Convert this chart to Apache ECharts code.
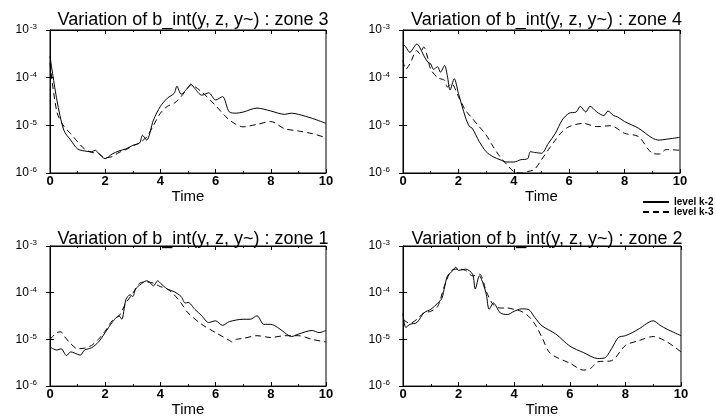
<!DOCTYPE html>
<html><head><meta charset="utf-8">
<script src="https://cdn.jsdelivr.net/npm/echarts@6/dist/echarts.min.js"></script>
<style>html,body{margin:0;padding:0;background:#fff}#c{width:716px;height:418px}</style>
</head><body><div id="c"></div>
<script>
// ---- DATA ----
const panelTitles = ['Variation of b_int(y, z, y~) : zone 3','Variation of b_int(y, z, y~) : zone 4','Variation of b_int(y, z, y~) : zone 1','Variation of b_int(y, z, y~) : zone 2'];
const seriesNames = ['level k-2','level k-3'];
const xTicks = [0,2,4,6,8,10];
const yTicks = [1e-6,1e-5,1e-4,1e-3];

// zone 3
const zone3TimeK2 = [0,0.25,0.5,0.75,1,1.25,1.5,1.65,1.75,2,2.25,2.5,2.75,3,3.25,3.35,3.5,3.75,4,4.25,4.5,4.6,4.75,5,5.1,5.25,5.5,5.75,6,6.25,6.5,6.75,7,7.5,8,8.5,8.75,9,9.5,10];
const zone3K2 = [2.8e-4,3.4e-5,7.9e-6,4.9e-6,3.2e-6,2.9e-6,2.8e-6,3.0e-6,2.6e-6,2.0e-6,2.5e-6,2.9e-6,3.2e-6,3.8e-6,4.3e-6,6.2e-6,4.9e-6,1.3e-5,2.5e-5,3.7e-5,4.7e-5,6.6e-5,4.5e-5,6.2e-5,7.3e-5,5.9e-5,4.3e-5,4.8e-5,3.4e-5,4.0e-5,1.9e-5,1.8e-5,1.9e-5,2.3e-5,2.0e-5,1.7e-5,1.8e-5,1.7e-5,1.4e-5,1.1e-5];
const zone3TimeK3 = [0,0.25,0.5,0.75,1,1.25,1.5,1.75,2,2.25,2.5,2.75,3,3.25,3.5,3.75,4,4.25,4.5,4.75,5,5.1,5.5,6,6.5,7,7.5,8,8.5,9,9.5,10];
const zone3K3 = [2.0e-4,1.9e-5,9.6e-6,6.7e-6,4.5e-6,3.2e-6,2.7e-6,2.6e-6,2.1e-6,2.2e-6,2.7e-6,3.1e-6,3.7e-6,4.3e-6,5.7e-6,1.0e-5,1.8e-5,2.5e-5,2.9e-5,4.0e-5,6.2e-5,7.0e-5,5.0e-5,2.6e-5,1.3e-5,9.3e-6,1.05e-5,1.2e-5,8.5e-6,7.6e-6,6.7e-6,5.5e-6];

// zone 4
const zone4TimeK2 = [0,0.1,0.25,0.4,0.5,0.6,0.75,0.9,1,1.1,1.25,1.35,1.5,1.6,1.7,1.85,2,2.25,2.4,2.5,2.75,3,3.25,3.5,3.75,4,4.25,4.5,4.6,4.75,5,5.25,5.5,5.75,6,6.25,6.4,6.6,6.75,7,7.25,7.4,7.6,7.75,8,8.5,9,9.25,9.5,10];
const zone4K2 = [5.1e-4,4.4e-4,3.4e-4,4.4e-4,5.1e-4,4.4e-4,2.9e-4,2.1e-4,1.95e-4,1.5e-4,1.7e-4,1.3e-4,1.8e-4,1.1e-4,5.5e-5,9.5e-5,4.7e-5,1.5e-5,9.4e-6,8.7e-6,4.6e-6,2.8e-6,2.2e-6,1.9e-6,1.7e-6,1.7e-6,1.9e-6,2.0e-6,2.8e-6,2.7e-6,2.6e-6,4.2e-6,6.8e-6,1.3e-5,1.8e-5,1.9e-5,2.5e-5,1.9e-5,2.5e-5,1.9e-5,1.6e-5,2.0e-5,1.6e-5,1.5e-5,1.2e-5,8.7e-6,5.4e-6,4.9e-6,5.1e-6,5.6e-6];
const zone4TimeK3 = [0,0.1,0.25,0.5,0.6,0.75,0.9,1,1.25,1.5,1.6,1.75,2,2.25,2.5,2.75,3,3.25,3.5,3.75,4,4.25,4.5,4.75,5,5.25,5.5,5.75,6,6.5,7,7.5,8,8.5,9,9.25,9.5,10];
const zone4K3 = [2.3e-4,1.5e-4,1.95e-4,3.7e-4,3.2e-4,4.4e-4,2.5e-4,1.5e-4,1.0e-4,8.8e-5,6.4e-5,7.5e-5,4.0e-5,2.1e-5,1.4e-5,9.4e-6,6.3e-6,3.6e-6,2.2e-6,1.5e-6,1.07e-6,1.0e-6,1.07e-6,1.2e-6,1.9e-6,3.1e-6,4.9e-6,7.4e-6,9.4e-6,1.1e-5,9.4e-6,9.8e-6,6.8e-6,5.8e-6,2.6e-6,2.5e-6,3.1e-6,3.0e-6];

// zone 1
const zone1TimeK2 = [0,0.25,0.4,0.6,0.75,1,1.1,1.25,1.5,1.75,2,2.25,2.5,2.6,2.75,2.9,3,3.1,3.25,3.5,3.6,3.75,3.9,4,4.25,4.5,4.75,4.9,5,5.25,5.5,5.75,6,6.25,6.5,7,7.25,7.5,7.75,8,8.25,8.5,8.75,9,9.5,9.75,10];
const zone1K2 = [6.9e-6,5.9e-6,6.3e-6,4.5e-6,5.4e-6,4.8e-6,4.6e-6,5.9e-6,6.6e-6,8.7e-6,1.4e-5,2.3e-5,3.2e-5,2.7e-5,7.1e-5,9.0e-5,8.3e-5,1.2e-4,1.45e-4,1.8e-4,1.7e-4,1.4e-4,1.8e-4,1.6e-4,1.2e-4,1.05e-4,8.3e-5,6.0e-5,6.2e-5,4.4e-5,3.2e-5,2.3e-5,2.5e-5,2.0e-5,2.4e-5,2.7e-5,2.7e-5,3.2e-5,2.1e-5,2.1e-5,1.8e-5,1.4e-5,1.15e-5,1.3e-5,1.55e-5,1.4e-5,1.55e-5];
const zone1TimeK3 = [0,0.25,0.4,0.5,0.75,1,1.25,1.5,1.75,2,2.25,2.5,2.6,2.75,3,3.25,3.5,3.75,4,4.25,4.5,4.75,5,5.5,6,6.5,6.6,6.75,7,7.5,8,8.5,9,9.5,10];
const zone1K3 = [1.0e-5,1.4e-5,1.45e-5,1.2e-5,8.1e-6,6.3e-6,6.5e-6,7.4e-6,1.0e-5,1.5e-5,2.5e-5,3.2e-5,4.0e-5,6.0e-5,9.7e-5,1.6e-4,1.7e-4,1.6e-4,1.35e-4,1.2e-4,9.0e-5,6.0e-5,3.7e-5,2.1e-5,1.4e-5,9.5e-6,8.8e-6,1.0e-5,1.05e-5,1.2e-5,1.1e-5,1.2e-5,1.2e-5,1.0e-5,8.8e-6];

// zone 2
const zone2TimeK2 = [0,0.1,0.25,0.5,0.75,1,1.25,1.4,1.5,1.6,1.75,1.9,2,2.25,2.5,2.6,2.75,2.9,3,3.1,3.25,3.5,3.75,4,4.25,4.5,4.75,5,5.5,6,6.5,7,7.25,7.5,7.75,8,8.25,8.5,9,9.25,9.5,10];
const zone2K2 = [3.7e-5,1.8e-5,2.1e-5,2.3e-5,3.7e-5,4.4e-5,6.0e-5,7.6e-5,1.35e-4,2.3e-4,2.8e-4,3.5e-4,3.0e-4,3.2e-4,2.5e-4,1.2e-4,2.3e-4,1.45e-4,9.0e-5,4.4e-5,6.0e-5,3.7e-5,3.4e-5,4.0e-5,4.5e-5,4.4e-5,2.9e-5,1.95e-5,1.3e-5,7.2e-6,5.2e-6,3.9e-6,4.0e-6,6.3e-6,1.1e-5,1.2e-5,1.4e-5,1.7e-5,2.5e-5,2.0e-5,1.65e-5,1.2e-5];
const zone2TimeK3 = [0,0.25,0.5,0.75,1,1.25,1.5,1.75,2,2.25,2.5,2.75,3,3.25,3.5,3.75,4,4.25,4.5,4.75,5,5.25,5.5,6,6.5,6.75,7,7.5,8,8.5,9,9.5,10];
const zone2K3 = [2.7e-5,2.2e-5,2.7e-5,3.7e-5,4.0e-5,5.1e-5,1.45e-4,3.0e-4,3.2e-4,3.0e-4,2.3e-4,2.5e-4,1.05e-4,5.5e-5,4.7e-5,4.7e-5,4.4e-5,4.0e-5,3.2e-5,2.1e-5,1.1e-5,5.4e-6,4.2e-6,3.1e-6,2.2e-6,2.4e-6,3.3e-6,3.5e-6,7.4e-6,9.5e-6,1.15e-5,8.8e-6,5.4e-6];

// ---- CHART ----
const FONT = 'Liberation Sans, Arial, Helvetica, sans-serif';
const panels = [
  {title: panelTitles[0], t2: zone3TimeK2, v2: zone3K2, t3: zone3TimeK3, v3: zone3K3, grid:{left:50, top:30, width:276, height:143}, titleTop:6},
  {title: panelTitles[1], t2: zone4TimeK2, v2: zone4K2, t3: zone4TimeK3, v3: zone4K3, grid:{left:403, top:30, width:277, height:143}, titleTop:6},
  {title: panelTitles[2], t2: zone1TimeK2, v2: zone1K2, t3: zone1TimeK3, v3: zone1K3, grid:{left:50, top:246, width:276, height:144}, titleTop:225},
  {title: panelTitles[3], t2: zone2TimeK2, v2: zone2K2, t3: zone2TimeK3, v3: zone2K3, grid:{left:403, top:246, width:278, height:144}, titleTop:225}
];
const zip = (t, v) => t.map((x, i) => [x, v[i]]);
const option = {
  animation: false,
  backgroundColor: '#fff',
  textStyle: {fontFamily: FONT, color: '#000'},
  title: [], grid: [], xAxis: [], yAxis: [], series: [],
  legend: {
    orient: 'vertical', left: 642, top: 197, padding: 0, itemWidth: 26, itemHeight: 8, itemGap: 0,
    itemStyle: {opacity: 0},
    textStyle: {fontFamily: FONT, fontSize: 10, fontWeight: 'bold', color: '#000', lineHeight: 8},
    data: seriesNames
  }
};
const supLabel = v => {
  const e = Math.round(Math.log10(v));
  return '{b|10}{s|' + e + '}';
};
panels.forEach((p, i) => {
  option.grid.push(Object.assign({show: true, borderColor: '#000', borderWidth: 1, backgroundColor: 'transparent'}, p.grid));
  option.title.push({
    text: p.title, left: p.grid.left + p.grid.width / 2, top: p.titleTop, textAlign: 'center',
    textStyle: {fontFamily: FONT, fontSize: 18, fontWeight: 'normal', color: '#000'}
  });
  option.xAxis.push({
    type: 'value', gridIndex: i, min: xTicks[0], max: xTicks[xTicks.length - 1], interval: xTicks[1] - xTicks[0],
    name: 'Time', nameLocation: 'middle', nameGap: 12,
    nameTextStyle: {fontFamily: FONT, fontSize: 15, color: '#000', verticalAlign: 'top'},
    axisLine: {lineStyle: {color: '#000'}}, axisTick: {inside: true, length: 4, lineStyle: {color: '#000'}},
    minorTick: {show: true, splitNumber: 2, length: 2, lineStyle: {color: '#000'}},
    axisLabel: {fontFamily: FONT, fontSize: 13, fontWeight: 'bold', color: '#000', margin: 2},
    splitLine: {show: false}
  });
  option.xAxis.push({
    type: 'value', gridIndex: i, position: 'top', min: xTicks[0], max: xTicks[xTicks.length - 1], interval: xTicks[1] - xTicks[0],
    axisLine: {lineStyle: {color: '#000'}}, axisTick: {inside: true, length: 4, lineStyle: {color: '#000'}},
    minorTick: {show: true, splitNumber: 2, length: 2, lineStyle: {color: '#000'}},
    axisLabel: {show: false}, splitLine: {show: false}
  });
  option.yAxis.push({
    type: 'log', logBase: 10, gridIndex: i, min: yTicks[0], max: yTicks[yTicks.length - 1],
    axisLine: {lineStyle: {color: '#000'}}, axisTick: {inside: true, length: 4, lineStyle: {color: '#000'}},
    axisLabel: {
      margin: 13, color: '#000', formatter: supLabel,
      rich: {
        b: {fontFamily: FONT, fontSize: 12, color: '#000', lineHeight: 14},
        s: {fontFamily: FONT, fontSize: 8, color: '#000', verticalAlign: 'top', lineHeight: 14, padding: [0, 0, 8, 1]}
      }
    },
    splitLine: {show: false}
  });
  option.yAxis.push({
    type: 'log', logBase: 10, gridIndex: i, position: 'right', min: yTicks[0], max: yTicks[yTicks.length - 1],
    axisLine: {lineStyle: {color: '#000'}}, axisTick: {inside: true, length: 4, lineStyle: {color: '#000'}},
    axisLabel: {show: false}, splitLine: {show: false}
  });
  option.series.push({
    name: seriesNames[0], type: 'line', xAxisIndex: 2 * i, yAxisIndex: 2 * i, data: zip(p.t2, p.v2),
    symbol: 'none', smooth: 0.3, clip: true, lineStyle: {color: '#000', width: 1}, itemStyle: {color: '#000'}
  });
  option.series.push({
    name: seriesNames[1], type: 'line', xAxisIndex: 2 * i, yAxisIndex: 2 * i, data: zip(p.t3, p.v3),
    symbol: 'none', smooth: 0.3, clip: true, lineStyle: {color: '#000', width: 1, type: [6, 4]}, itemStyle: {color: '#000'}
  });
});
const chart = echarts.init(document.getElementById('c'), null, {renderer: 'canvas'});
chart.setOption(option);
</script></body></html>
